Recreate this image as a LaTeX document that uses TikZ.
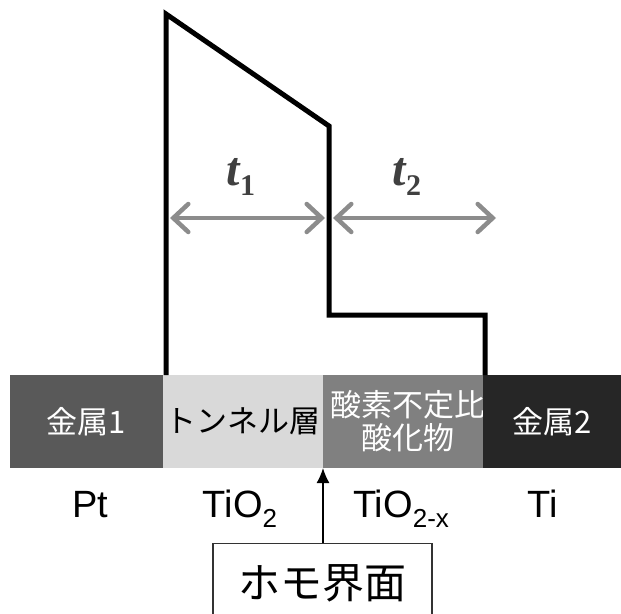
\documentclass[tikz,border=0pt]{standalone}
\usepackage{fontspec}
\setmainfont{Liberation Sans}
\newfontfamily\cjk{Noto Sans CJK JP}
\newfontfamily\tserif{Liberation Serif}
\usetikzlibrary{arrows.meta}
\definecolor{bA}{HTML}{595959}
\definecolor{bB}{HTML}{D9D9D9}
\definecolor{bC}{HTML}{808080}
\definecolor{bD}{HTML}{262626}
\definecolor{arrg}{HTML}{8C8C8C}
\definecolor{tcol}{HTML}{404040}
\newcommand{\lowsub}[1]{\raisebox{-0.28em}{\fontsize{26}{26}\selectfont #1}}
\newcommand{\tsub}[1]{\raisebox{-0.22em}{\fontsize{30}{30}\selectfont\upshape #1}}
\begin{document}
\begin{tikzpicture}[x=1pt,y=-1pt,
  layer/.style={minimum height=93pt, inner sep=0pt, outer sep=0pt, anchor=north west,
    font=\cjk\fontsize{31}{34}\selectfont, align=center},
  band/.style={line width=5pt, line join=miter, black},
  garrow/.style={line width=4.5pt, arrg, {Straight Barb[length=15pt,width=28pt,line cap=round]}-{Straight Barb[length=15pt,width=28pt,line cap=round]}},
  tlabel/.style={anchor=base, text=tcol, font=\tserif\bfseries\itshape\fontsize{48}{48}\selectfont},
  matlabel/.style={anchor=base, font=\fontsize{38}{38}\selectfont},
  callout/.style={draw=black!80, line width=1.2pt, minimum width=219pt, minimum height=80pt,
    anchor=north, inner sep=0pt, font=\cjk\fontsize{42}{42}\selectfont},
  pointer/.style={line width=1.6pt, -{Latex[length=15pt,width=13pt]}}]
\useasboundingbox (0,0) rectangle (621,613);
\clip (0,0) rectangle (621,613);
% layers
\node[layer, fill=bA, minimum width=153pt, text=white] (m1) at (10,375) {金属1};
\node[layer, fill=bB, minimum width=160pt, text=black] (tn) at (163,375) {トンネル層};
\node[layer, fill=bC, minimum width=160pt, text=white] (ox) at (323,375) {};
\node[text=white, font=\cjk\fontsize{31}{33}\selectfont, align=center, inner sep=0pt] (oxt) at ([xshift=5pt]ox.center) {酸素不定比\\酸化物};
\node[layer, fill=bD, minimum width=138pt, text=white] (m2) at (483,375) {金属2};
% potential profile
\coordinate (p1) at (166,375);
\coordinate (p2) at (166,14);
\coordinate (p3) at (329,126);
\coordinate (p4) at (329,315);
\coordinate (p5) at (485,315);
\coordinate (p6) at (485,375);
\draw[band] (p1) -- (p2) -- (p3) -- (p4) -- (p5) -- (p6);
% thickness arrows
\coordinate (a1l) at (170,218);
\coordinate (a1r) at (325,218);
\coordinate (a2l) at (333,218);
\coordinate (a2r) at (496,218);
\draw[garrow] (a1l) -- (a1r);
\draw[garrow] (a2l) -- (a2r);
\node[tlabel] (t1) at (241,185) {t\tsub{1}};
\node[tlabel] (t2) at (407,185) {t\tsub{2}};
% material labels
\node[matlabel] (pt) at (90,517) {Pt};
\node[matlabel] (tio2) at (240,517) {TiO\lowsub{2}};
\node[matlabel] (tio2x) at (401,517) {TiO\lowsub{2-x}};
\node[matlabel] (ti) at (543,517) {Ti};
% homo-interface callout
\node[callout] (hm) at (322.5,543) {ホモ界面};
\draw[pointer] (hm.north -| ox.south west) -- (ox.south west);
\end{tikzpicture}
\end{document}
